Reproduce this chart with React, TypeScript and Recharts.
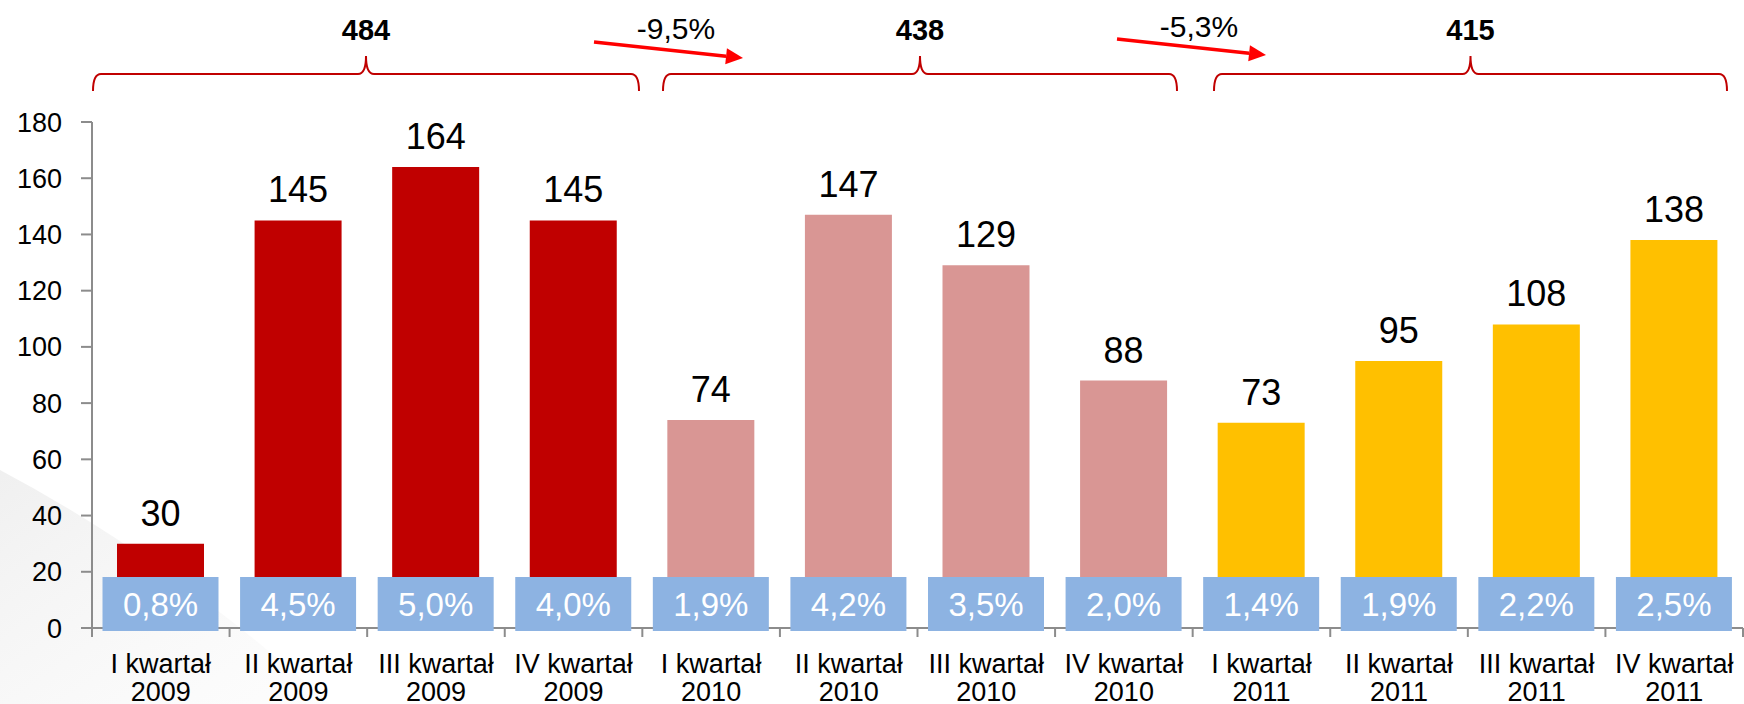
import React from 'react';
import { BarChart, Bar, XAxis, YAxis, Cell, LabelList } from 'recharts';

const quarters = [
  'I kwartał', 'II kwartał', 'III kwartał', 'IV kwartał',
  'I kwartał', 'II kwartał', 'III kwartał', 'IV kwartał',
  'I kwartał', 'II kwartał', 'III kwartał', 'IV kwartał',
];
const years = ['2009', '2009', '2009', '2009', '2010', '2010', '2010', '2010', '2011', '2011', '2011', '2011'];
const values = [30, 145, 164, 145, 74, 147, 129, 88, 73, 95, 108, 138];
const shares = ['0,8%', '4,5%', '5,0%', '4,0%', '1,9%', '4,2%', '3,5%', '2,0%', '1,4%', '1,9%', '2,2%', '2,5%'];
const yTicks = [0, 20, 40, 60, 80, 100, 120, 140, 160, 180];
const groupYears = ['2009', '2010', '2011'];
const groupTotals = ['484', '438', '415'];
const groupChanges = ['-9,5%', '-5,3%'];

const yearColors: Record<string, string> = { '2009': '#C00000', '2010': '#D99694', '2011': '#FFC000' };

const data = quarters.map((q, i) => ({
  key: `${q} ${years[i]}`,
  quarter: q,
  year: years[i],
  value: values[i],
  share: shares[i],
}));

const W = 1744;
const H = 704;
const PLOT_LEFT = 92;
const PLOT_RIGHT = 1743;
const PLOT_TOP = 122;
const PLOT_BOTTOM = 628;
const STEP = (PLOT_RIGHT - PLOT_LEFT) / data.length;
const FONT = "'Liberation Sans', Arial, sans-serif";
const AXIS = '#8c8c8c';

const CatTick = (props: any) => {
  const { x, y, index } = props;
  const d = data[index];
  const tickX = x - STEP / 2;
  return (
    <g>
      <line x1={tickX} x2={tickX} y1={y} y2={y + 9} stroke={AXIS} strokeWidth={2} />
      {index === data.length - 1 && (
        <line x1={x + STEP / 2} x2={x + STEP / 2} y1={y} y2={y + 9} stroke={AXIS} strokeWidth={2} />
      )}
      <text x={x} y={y + 45} textAnchor="middle" fontSize={27} fill="#000" fontFamily={FONT}>{d.quarter}</text>
      <text x={x} y={y + 73} textAnchor="middle" fontSize={27} fill="#000" fontFamily={FONT}>{d.year}</text>
    </g>
  );
};

const ValueLabel = (props: any) => {
  const vb = props.viewBox || {};
  const x = props.x ?? vb.x;
  const y = props.y ?? vb.y;
  const width = props.width ?? vb.width;
  return (
    <text x={x + width / 2} y={y - 18} textAnchor="middle" fontSize={36} fill="#000" fontFamily={FONT}>
      {props.value}
    </text>
  );
};

const ShareLabel = (props: any) => {
  const vb = props.viewBox || {};
  const x = props.x ?? vb.x;
  const y = props.y ?? vb.y;
  const width = props.width ?? vb.width;
  const height = props.height ?? vb.height;
  const cx = x + width / 2;
  const bottom = y + height;
  return (
    <g>
      <rect x={cx - 58} y={bottom - 51} width={116} height={54} fill="#8DB3E2" />
      <text x={cx} y={bottom - 12} textAnchor="middle" fontSize={33} fill="#fff" fontFamily={FONT}>
        {props.value}
      </text>
    </g>
  );
};

const bracketX: [number, number][] = [[93, 639], [663, 1177], [1214, 1727]];
const arrowPts: [number, number, number, number][] = [[594, 42, 743, 58], [1117, 39, 1266, 55]];
const changeLabelPos: [number, number][] = [[676, 39], [1199, 37]];

const bracketPath = (x1: number, x2: number) => {
  const yh = 74;
  const yb = 91;
  const peak = 56;
  const r = 8;
  const m = (x1 + x2) / 2;
  return `M ${x1} ${yb} Q ${x1} ${yh} ${x1 + r} ${yh} L ${m - r} ${yh} Q ${m} ${yh} ${m} ${peak} Q ${m} ${yh} ${m + r} ${yh} L ${x2 - r} ${yh} Q ${x2} ${yh} ${x2} ${yb}`;
};

const Arrow = ({ pts }: { pts: [number, number, number, number] }) => {
  const [x1, y1, x2, y2] = pts;
  const dx = x2 - x1;
  const dy = y2 - y1;
  const len = Math.sqrt(dx * dx + dy * dy);
  const ux = dx / len;
  const uy = dy / len;
  const hl = 17;
  const hw = 8;
  const bx = x2 - ux * hl;
  const by = y2 - uy * hl;
  return (
    <g>
      <line x1={x1} y1={y1} x2={bx} y2={by} stroke="#FF0000" strokeWidth={3.5} />
      <polygon
        points={`${x2},${y2} ${bx - uy * hw},${by + ux * hw} ${bx + uy * hw},${by - ux * hw}`}
        fill="#FF0000"
      />
    </g>
  );
};

export default function App() {
  return (
    <div style={{ position: 'absolute', left: 0, top: 0, width: W, height: H, background: '#fff', overflow: 'hidden' }}>
      <svg width={W} height={H} style={{ position: 'absolute', left: 0, top: 0 }}>
        <defs>
          <linearGradient id="swoosh" x1="0" y1="0" x2="1" y2="1">
            <stop offset="0" stopColor="#eeeeee" stopOpacity={0.9} />
            <stop offset="1" stopColor="#f8f8f8" stopOpacity={0.3} />
          </linearGradient>
        </defs>
        <path d="M 0 470 Q 170 560 330 704 L 0 704 Z" fill="url(#swoosh)" />
      </svg>
      <div style={{ position: 'absolute', left: 0, top: 0 }}>
        <BarChart
          width={W}
          height={H}
          data={data}
          margin={{ top: PLOT_TOP, right: W - PLOT_RIGHT, bottom: H - PLOT_BOTTOM - 70, left: 0 }}
          barCategoryGap={0}
        >
          <XAxis
            dataKey="key"
            interval={0}
            tickLine={false}
            tickSize={0}
            tickMargin={0}
            height={70}
            axisLine={{ stroke: AXIS, strokeWidth: 2 }}
            tick={<CatTick />}
          />
          <YAxis
            domain={[0, 180]}
            ticks={yTicks}
            interval={0}
            width={PLOT_LEFT}
            tickSize={11}
            tickMargin={19}
            axisLine={{ stroke: AXIS, strokeWidth: 2 }}
            tickLine={{ stroke: AXIS, strokeWidth: 2 }}
            tick={{ fontSize: 27, fill: '#000', fontFamily: FONT }}
          />
          <Bar dataKey="value" barSize={87} isAnimationActive={false}>
            {data.map((d, i) => (
              <Cell key={i} fill={yearColors[d.year]} />
            ))}
            <LabelList dataKey="value" content={<ValueLabel />} />
            <LabelList dataKey="share" content={<ShareLabel />} />
          </Bar>
        </BarChart>
      </div>
      <svg width={W} height={H} style={{ position: 'absolute', left: 0, top: 0, pointerEvents: 'none' }}>
        {groupYears.map((g, i) => (
          <g key={g}>
            <path d={bracketPath(bracketX[i][0], bracketX[i][1])} fill="none" stroke="#C00000" strokeWidth={2} />
            <text
              x={(bracketX[i][0] + bracketX[i][1]) / 2}
              y={40}
              textAnchor="middle"
              fontSize={29}
              fontWeight="bold"
              fill="#000"
              fontFamily={FONT}
            >
              {groupTotals[i]}
            </text>
          </g>
        ))}
        {groupChanges.map((c, i) => (
          <g key={c}>
            <Arrow pts={arrowPts[i]} />
            <text
              x={changeLabelPos[i][0]}
              y={changeLabelPos[i][1]}
              textAnchor="middle"
              fontSize={30}
              fill="#000"
              fontFamily={FONT}
            >
              {c}
            </text>
          </g>
        ))}
      </svg>
    </div>
  );
}
